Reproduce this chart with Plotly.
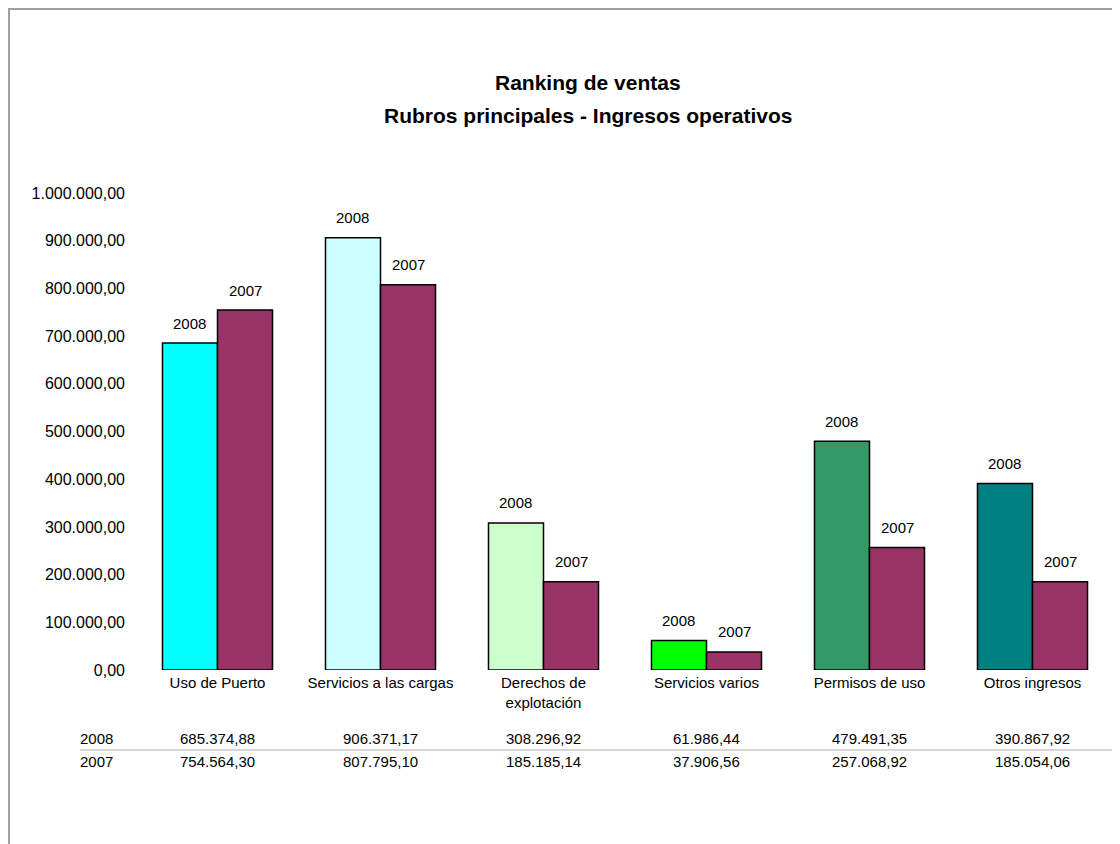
import plotly.graph_objects as go

# Datos del grafico
categorias = ['Uso de Puerto', 'Servicios a las cargas', 'Derechos de<br>explotación',
              'Servicios varios', 'Permisos de uso', 'Otros ingresos']
ventas_2008 = [685374.88, 906371.17, 308296.92, 61986.44, 479491.35, 390867.92]
ventas_2007 = [754564.30, 807795.10, 185185.14, 37906.56, 257068.92, 185054.06]
colores_2008 = ['#00FFFF', '#CCFFFF', '#CCFFCC', '#00FF00', '#339966', '#008080']
color_2007 = '#993366'
ticks_y = [0, 100000, 200000, 300000, 400000, 500000, 600000, 700000, 800000, 900000, 1000000]

FONT = 'Liberation Sans, Arial, sans-serif'

# geometria (la pagina tiene un margen de 8px)
W, H = 1112, 836
ML, MR, MT, MB = 128, 6, 185, 174
PW, PH = W - ML - MR, H - MT - MB
BARGAP = 0.325


def px(xp):
    # posicion en pixeles de la pagina -> coordenada paper
    return (xp - 8 - ML) / PW


def py(yp):
    return (H - MB - (yp - 8)) / PH


def fmt_es(v):
    # 1234567.8 -> 1.234.567,80
    s = f"{v:,.2f}"
    return s.replace(',', 'X').replace('.', ',').replace('X', '.')


x_pos = list(range(len(categorias)))

data = [
    go.Bar(x=x_pos, y=ventas_2008, name='2008',
           marker={'color': colores_2008, 'line': {'color': 'black', 'width': 1.5}}),
    go.Bar(x=x_pos, y=ventas_2007, name='2007',
           marker={'color': color_2007, 'line': {'color': 'black', 'width': 1.5}}),
]

layout = go.Layout(
    width=W, height=H,
    margin={'l': ML, 'r': MR, 't': MT, 'b': MB},
    paper_bgcolor='white', plot_bgcolor='white',
    font={'family': FONT, 'size': 15, 'color': 'black'},
    showlegend=False,
    barmode='group', bargap=BARGAP, bargroupgap=0,
    xaxis={'range': [-0.5, len(categorias) - 0.5], 'tickvals': x_pos, 'ticktext': categorias,
           'showgrid': False, 'zeroline': False, 'showline': False, 'ticks': '',
           'tickfont': {'size': 15}, 'ticklabelstandoff': 2},
    yaxis={'range': [0, 1000000], 'tickvals': ticks_y, 'ticktext': [fmt_es(v) for v in ticks_y],
           'showgrid': False, 'zeroline': False, 'showline': False, 'ticks': '',
           'tickfont': {'size': 16}, 'ticklabelstandoff': 10},
)

fig = go.Figure(data=data, layout=layout)

# Etiquetas de serie sobre cada barra
off = (1 - BARGAP) / 4
for serie, valores, d in [('2008', ventas_2008, -off), ('2007', ventas_2007, off)]:
    for i, v in enumerate(valores):
        fig.add_annotation(text=serie, x=x_pos[i] + d, y=v, yshift=20, showarrow=False,
                           xanchor='center', yanchor='middle', font={'size': 15})

# Titulos
fig.add_annotation(text='<b>Ranking de ventas</b>', xref='paper', yref='paper', x=px(588), y=py(82),
                   xanchor='center', yanchor='middle', showarrow=False, font={'size': 21})
fig.add_annotation(text='<b>Rubros principales - Ingresos operativos</b>', xref='paper', yref='paper',
                   x=px(588), y=py(115), xanchor='center', yanchor='middle', showarrow=False,
                   font={'size': 21})

# Tabla de datos
for serie, valores, yrow in [('2008', ventas_2008, py(738)), ('2007', ventas_2007, py(761))]:
    fig.add_annotation(text=serie, xref='paper', yref='paper', x=px(96), y=yrow,
                       xanchor='center', yanchor='middle', showarrow=False, font={'size': 15})
    for i, v in enumerate(valores):
        fig.add_annotation(text=fmt_es(v), xref='x', yref='paper', x=x_pos[i], y=yrow,
                           xanchor='center', yanchor='middle', showarrow=False, font={'size': 15})

fig.add_shape(type='line', xref='paper', yref='paper', x0=px(80), x1=px(1112), y0=py(750), y1=py(750),
              line={'color': '#B0B0B0', 'width': 1})

# Marco exterior
fig.add_shape(type='line', xref='paper', yref='paper', x0=px(8), x1=px(1120), y0=py(9), y1=py(9),
              line={'color': '#A0A0A0', 'width': 2})
fig.add_shape(type='line', xref='paper', yref='paper', x0=px(9), x1=px(9), y0=py(9), y1=py(844),
              line={'color': '#A0A0A0', 'width': 2})

fig.write_html("out.html")
